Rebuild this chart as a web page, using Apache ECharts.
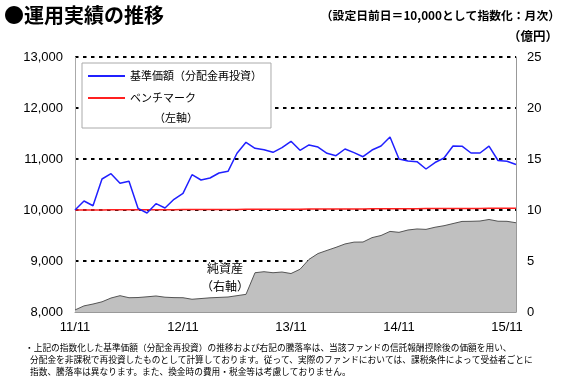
<!DOCTYPE html>
<html><head><meta charset="utf-8">
<script src="https://cdn.jsdelivr.net/npm/echarts@6/dist/echarts.min.js"></script>
<style>html,body{margin:0;padding:0;background:#fff}#c{width:566px;height:380px}</style>
</head><body><div id="c"></div>
<script>
const months = ['11/11','11/12','12/01','12/02','12/03','12/04','12/05','12/06','12/07','12/08','12/09','12/10',
  '12/11','12/12','13/01','13/02','13/03','13/04','13/05','13/06','13/07','13/08','13/09','13/10',
  '13/11','13/12','14/01','14/02','14/03','14/04','14/05','14/06','14/07','14/08','14/09','14/10',
  '14/11','14/12','15/01','15/02','15/03','15/04','15/05','15/06','15/07','15/08','15/09','15/10',
  '15/11','15/12'];
const navIndex = [10000,10176,10084,10608,10712,10524,10563,10033,9941,10124,10039,10210,
  10327,10692,10588,10627,10725,10759,11112,11327,11210,11182,11131,11222,
  11347,11171,11275,11235,11112,11065,11196,11124,11045,11176,11255,11431,
  11000,10961,10947,10804,10931,11020,11255,11251,11118,11118,11251,10971,
  10957,10892];
const benchmark = [10000,10001,10001,10002,10003,10003,10004,10005,10005,10006,10007,10007,
  10008,10009,10009,10010,10011,10012,10012,10013,10014,10014,10015,10016,
  10016,10017,10018,10019,10019,10020,10021,10021,10022,10023,10023,10024,
  10025,10026,10026,10027,10028,10028,10029,10030,10030,10031,10032,10033,
  10033,10034];
const netAssets = [0.2,0.6,0.78,1.0,1.37,1.6,1.4,1.42,1.49,1.57,1.45,1.41,
  1.4,1.25,1.32,1.39,1.43,1.47,1.6,1.73,3.85,3.95,3.85,3.92,
  3.77,4.19,5.16,5.73,6.04,6.34,6.67,6.85,6.86,7.29,7.5,7.9,
  7.81,8.04,8.14,8.1,8.31,8.46,8.67,8.88,8.89,8.92,9.07,8.9,
  8.89,8.75];
const seriesNames = ['基準価額（分配金再投資）','ベンチマーク','純資産'];
const titleText = '●運用実績の推移';
const subText = '（設定日前日＝10,000として指数化：月次）';
const unitText = '（億円）';
const leftAxisNote = '（左軸）';
const areaNote = ['純資産','（右軸）'];
const footnotes = [
  '・上記の指数化した基準価額（分配金再投資）の推移および右記の騰落率は、当該ファンドの信託報酬控除後の価額を用い、',
  '分配金を非課税で再投資したものとして計算しております。従って、実際のファンドにおいては、課税条件によって受益者ごとに',
  '指数、騰落率は異なります。また、換金時の費用・税金等は考慮しておりません。'
];
const FONT = '"Liberation Sans","Noto Sans CJK JP",sans-serif';
const JP = '"Noto Sans CJK JP",sans-serif';

const chart = echarts.init(document.getElementById('c'), null, {renderer:'canvas'});
const option = {
  animation: false,
  backgroundColor: '#fff',
  textStyle: {fontFamily: FONT},
  grid: {left: 75, right: 50, top: 57, bottom: 68},
  legend: {
    data: [seriesNames[0], seriesNames[1]],
    orient: 'vertical', left: 82, top: 63,
    padding: [6, 9, 23, 6], itemGap: 8,
    itemWidth: 37, itemHeight: 2, icon: 'rect',
    backgroundColor: '#fff', borderColor: '#aaa', borderWidth: 1,
    textStyle: {fontFamily: JP, fontSize: 11, color: '#000', lineHeight: 14},
    selectedMode: false
  },
  xAxis: {
    type: 'category', data: months, boundaryGap: false,
    axisLine: {lineStyle: {color: '#999', width: 1}},
    axisTick: {show: true, inside: true, length: 6, lineStyle: {color: '#aaa'},
      interval: (i) => i % 12 === 0},
    axisLabel: {interval: (i) => i % 12 === 0, color: '#000', fontSize: 13, margin: 9, fontFamily: FONT},
    splitLine: {show: false}
  },
  yAxis: [{
    type: 'value', min: 8000, max: 13000, interval: 1000, position: 'left',
    axisLine: {show: true, lineStyle: {color: '#aaa'}},
    axisTick: {show: false},
    axisLabel: {color: '#000', fontSize: 13, margin: 12, fontFamily: FONT,
      formatter: (v) => v.toLocaleString('en-US')},
    splitLine: {show: true, lineStyle: {color: '#000', type: [3.5, 4.5], width: 2}}
  }, {
    type: 'value', min: 0, max: 25, interval: 5, position: 'right',
    axisLine: {show: true, lineStyle: {color: '#999'}},
    axisTick: {show: false},
    axisLabel: {color: '#000', fontSize: 13, margin: 11, fontFamily: FONT},
    splitLine: {show: false}
  }],
  series: [{
    name: seriesNames[2], type: 'line', yAxisIndex: 1, data: netAssets,
    symbol: 'none', z: 1,
    lineStyle: {color: '#555', width: 1},
    areaStyle: {color: '#c0c0c0', opacity: 1}
  }, {
    name: seriesNames[1], type: 'line', yAxisIndex: 0, data: benchmark,
    symbol: 'none', z: 3, color: '#ff2020',
    lineStyle: {color: '#ff2020', width: 1.5}
  }, {
    name: seriesNames[0], type: 'line', yAxisIndex: 0, data: navIndex,
    symbol: 'none', z: 4, color: '#2020ff',
    lineStyle: {color: '#2020ff', width: 1.5}
  }],
  graphic: [
    {type: 'text', left: 4, top: 5, z: 10, style: {text: titleText, fontFamily: JP, fontSize: 20, fontWeight: 'bold', fill: '#000'}},
    {type: 'text', right: 6, top: 10, z: 10, style: {text: subText, fontFamily: JP, fontSize: 11.8, fontWeight: 'bold', fill: '#000'}},
    {type: 'text', right: 8, top: 30, z: 10, style: {text: unitText, fontFamily: JP, fontSize: 12.5, fontWeight: 'bold', fill: '#000'}},
    {type: 'text', x: 176, y: 118, z: 100, style: {text: leftAxisNote, fontFamily: JP, fontSize: 11, fill: '#000', align: 'center', verticalAlign: 'middle'}},
    {type: 'text', x: 225, y: 268, z: 10, style: {text: areaNote[0], fontFamily: JP, fontSize: 12, fill: '#000', align: 'center', verticalAlign: 'middle'}},
    {type: 'text', x: 225, y: 286, z: 10, style: {text: areaNote[1], fontFamily: JP, fontSize: 12, fill: '#000', align: 'center', verticalAlign: 'middle'}},
    {type: 'text', x: 25, y: 348, z: 10, style: {text: footnotes[0], fontFamily: JP, fontSize: 8.7, fill: '#000', verticalAlign: 'middle'}},
    {type: 'text', x: 30, y: 360, z: 10, style: {text: footnotes[1], fontFamily: JP, fontSize: 8.7, fill: '#000', verticalAlign: 'middle'}},
    {type: 'text', x: 30, y: 372, z: 10, style: {text: footnotes[2], fontFamily: JP, fontSize: 8.7, fill: '#000', verticalAlign: 'middle'}}
  ]
};
chart.setOption(option);
</script></body></html>
